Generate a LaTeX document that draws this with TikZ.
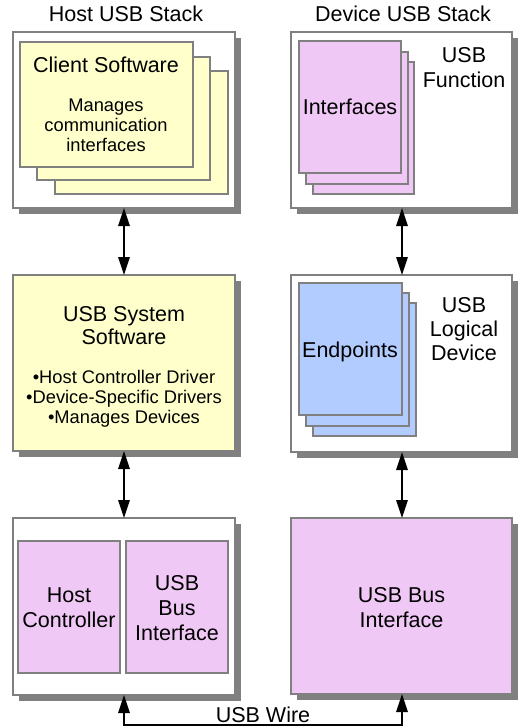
\documentclass[tikz,border=0pt]{standalone}
\usepackage{fontspec}
\setmainfont{Liberation Sans}
\usetikzlibrary{arrows.meta,shadows}
\definecolor{bordergray}{RGB}{128,128,128}
\definecolor{shadowgray}{RGB}{128,128,128}
\definecolor{paleyellow}{RGB}{255,255,204}
\definecolor{palepink}{RGB}{240,200,245}
\definecolor{paleblue}{RGB}{179,204,255}
\begin{document}
\begin{tikzpicture}[x=1pt,y=-1pt,
  box/.style={draw=bordergray, line width=1.5pt, rectangle, inner sep=0pt, outer sep=0pt, anchor=north west},
  shadowed/.style={drop shadow={shadow xshift=6pt, shadow yshift=-6pt, fill=shadowgray, opacity=1}},
  big/.style={font=\fontsize{21.5}{24}\selectfont, anchor=base, inner sep=0pt},
  small/.style={font=\fontsize{18.3}{20}\selectfont, anchor=base, inner sep=0pt},
  link/.style={line width=1.6pt, {Triangle[length=18pt,width=11.5pt]}-{Triangle[length=18pt,width=11.5pt]}}]
\fill[white] (0,0) rectangle (519,727);
\useasboundingbox (0,0) rectangle (519,727);

% titles
\node[big] (hosttitle) at (126,22) {Host USB Stack};
\node[big] (devtitle) at (403,22) {Device USB Stack};

% host top: client software
\node[box, shadowed, fill=white, minimum width=222pt, minimum height=176pt] (hosttop) at (13,32) {};
\node[box, fill=paleyellow, minimum width=173pt, minimum height=123pt] (client3) at (55,71) {};
\node[box, fill=paleyellow, minimum width=173pt, minimum height=123pt] (client2) at (37,57) {};
\node[box, fill=paleyellow, minimum width=173pt, minimum height=125pt] (client1) at (20,42) {};
\node[big] (clienttxt) at (106,73) {Client Software};
\node[small] (cl1) at (106,112) {Manages};
\node[small] (cl2) at (106,132) {communication};
\node[small] (cl3) at (106,152) {interfaces};

% device top: usb function
\node[box, shadowed, fill=white, minimum width=221pt, minimum height=176pt] (devtop) at (291,32) {};
\node[box, fill=palepink, minimum width=101pt, minimum height=132pt] (if3) at (313,62) {};
\node[box, fill=palepink, minimum width=102pt, minimum height=132pt] (if2) at (306,52) {};
\node[box, fill=palepink, minimum width=102pt, minimum height=132pt] (if1) at (299,41) {};
\node[big] (iftxt) at (350,115) {Interfaces};
\node[big] (fn1) at (464,63) {USB};
\node[big] (fn2) at (464,88) {Function};

% host middle: usb system software
\node[box, shadowed, fill=paleyellow, minimum width=222pt, minimum height=176pt] (hostsys) at (13,275) {};
\node[big] (sys1) at (124,321) {USB System};
\node[big] (sys2) at (124,344) {Software};
\node[small] (b1) at (124,383) {\textbullet Host Controller Driver};
\node[small] (b2) at (124,403) {\textbullet Device-Specific Drivers};
\node[small] (b3) at (124,423) {\textbullet Manages Devices};

% device middle: logical device
\node[box, shadowed, fill=white, minimum width=221pt, minimum height=177pt] (devlog) at (291,275) {};
\node[box, fill=paleblue, minimum width=103pt, minimum height=133pt] (ep3) at (313,303) {};
\node[box, fill=paleblue, minimum width=103pt, minimum height=133pt] (ep2) at (306,293) {};
\node[box, fill=paleblue, minimum width=103pt, minimum height=132pt] (ep1) at (299,283) {};
\node[big] (eptxt) at (350,357) {Endpoints};
\node[big] (ld1) at (464,312) {USB};
\node[big] (ld2) at (464,336) {Logical};
\node[big] (ld3) at (464,360) {Device};

% host bottom
\node[box, shadowed, fill=white, minimum width=222pt, minimum height=177pt] (hostbus) at (13,518) {};
\node[box, fill=palepink, minimum width=102pt, minimum height=132pt] (hc) at (18,541) {};
\node[box, fill=palepink, minimum width=102pt, minimum height=132pt] (hbi) at (126,541) {};
\node[big] (hc1) at (69,602) {Host};
\node[big] (hc2) at (69,627) {Controller};
\node[big] (hb1) at (177,590) {USB};
\node[big] (hb2) at (177,615) {Bus};
\node[big] (hb3) at (177,640) {Interface};

% device bottom
\node[box, shadowed, fill=palepink, minimum width=221pt, minimum height=176pt] (devbus) at (291,518) {};
\node[big] (db1) at (401.5,602) {USB Bus};
\node[big] (db2) at (401.5,627) {Interface};

% connectors
\draw[link] (hosttop.south) -- (hostsys.north);
\draw[link] (hostsys.south) -- (hostbus.north);
\draw[link] ([xshift=0.5pt]devtop.south) -- ([xshift=0.5pt]devlog.north);
\draw[link] ([xshift=0.5pt]devlog.south) -- ([xshift=0.5pt]devbus.north);
\coordinate (wl) at (124,725);
\coordinate (wr) at (402,725);
\draw[link] (hostbus.south) -- (wl) -- (wr) -- ([xshift=0.5pt]devbus.south);
\node[big] (wire) at (263,722) {USB Wire};
\end{tikzpicture}
\end{document}
